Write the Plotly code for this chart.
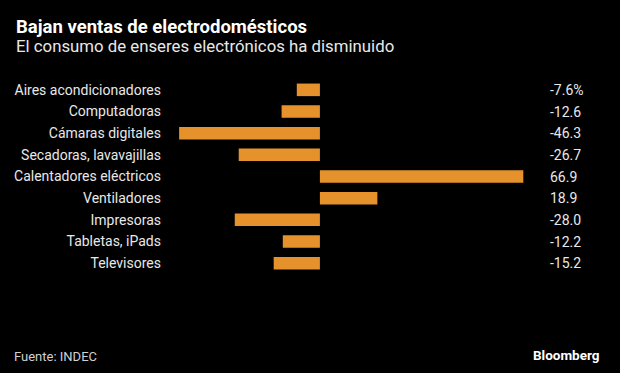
import plotly.graph_objects as go

categories = ["Aires acondicionadores", "Computadoras", "Cámaras digitales",
              "Secadoras, lavavajillas", "Calentadores eléctricos", "Ventiladores",
              "Impresoras", "Tabletas, iPads", "Televisores"]
values = [-7.6, -12.6, -46.3, -26.7, 66.9, 18.9, -28.0, -12.2, -15.2]
value_labels = ["-7.6%", "-12.6", "-46.3", "-26.7", "66.9", "18.9", "-28.0", "-12.2", "-15.2"]

title = "Bajan ventas de electrodomésticos"
subtitle = "El consumo de enseres electrónicos ha disminuido"
source = "Fuente: INDEC"

FONT = "Roboto"
TXT = "#e8e8e8"
BAR = "#E5922C"

W, H = 620, 373
L, R, T, B = 170, 90, 79, 99


def px(x):
    return (x - L) / (W - L - R)


def py(y):
    return (H - B - y) / (H - T - B)


fig = go.Figure()
fig.add_trace(go.Bar(
    x=values, y=categories, orientation="h",
    marker=dict(color=BAR, line=dict(width=0)),
    width=0.58, hoverinfo="skip",
))

fig.update_layout(
    width=W, height=H,
    margin=dict(l=L, r=R, t=T, b=B),
    paper_bgcolor="#000000", plot_bgcolor="#000000",
    showlegend=False,
    font=dict(family=FONT, size=14, color=TXT),
    xaxis=dict(range=[-49.3, 69.1], visible=False, fixedrange=True),
    yaxis=dict(autorange="reversed", showgrid=False, zeroline=False,
               showline=False, ticks="", ticklabelstandoff=8, fixedrange=True,
               tickfont=dict(family=FONT, size=14, color=TXT)),
)

for c, lab in zip(categories, value_labels):
    fig.add_annotation(x=px(548), xref="paper", y=c, yref="y", text=lab,
                       showarrow=False, xanchor="left", yanchor="middle",
                       font=dict(family=FONT, size=14, color=TXT))

fig.add_annotation(x=px(14), y=py(27), xref="paper", yref="paper",
                   xanchor="left", yanchor="middle",
                   text="<b>" + title + "</b>", showarrow=False,
                   font=dict(family=FONT, size=18.5, color="#ffffff"))
fig.add_annotation(x=px(14), y=py(46), xref="paper", yref="paper",
                   xanchor="left", yanchor="middle",
                   text=subtitle, showarrow=False,
                   font=dict(family=FONT, size=16.8, color=TXT))
fig.add_annotation(x=px(12), y=py(356), xref="paper", yref="paper",
                   xanchor="left", yanchor="middle",
                   text=source, showarrow=False,
                   font=dict(family=FONT, size=13, color="#d0d0d0"))
fig.add_annotation(x=px(602), y=py(355), xref="paper", yref="paper",
                   xanchor="right", yanchor="middle",
                   text="<b>Bloomberg</b>", showarrow=False,
                   font=dict(family=FONT, size=13.5, color="#ffffff"))

fig.write_html("out.html", config={"displayModeBar": False},
               post_script="document.body.style.margin='0px';")
